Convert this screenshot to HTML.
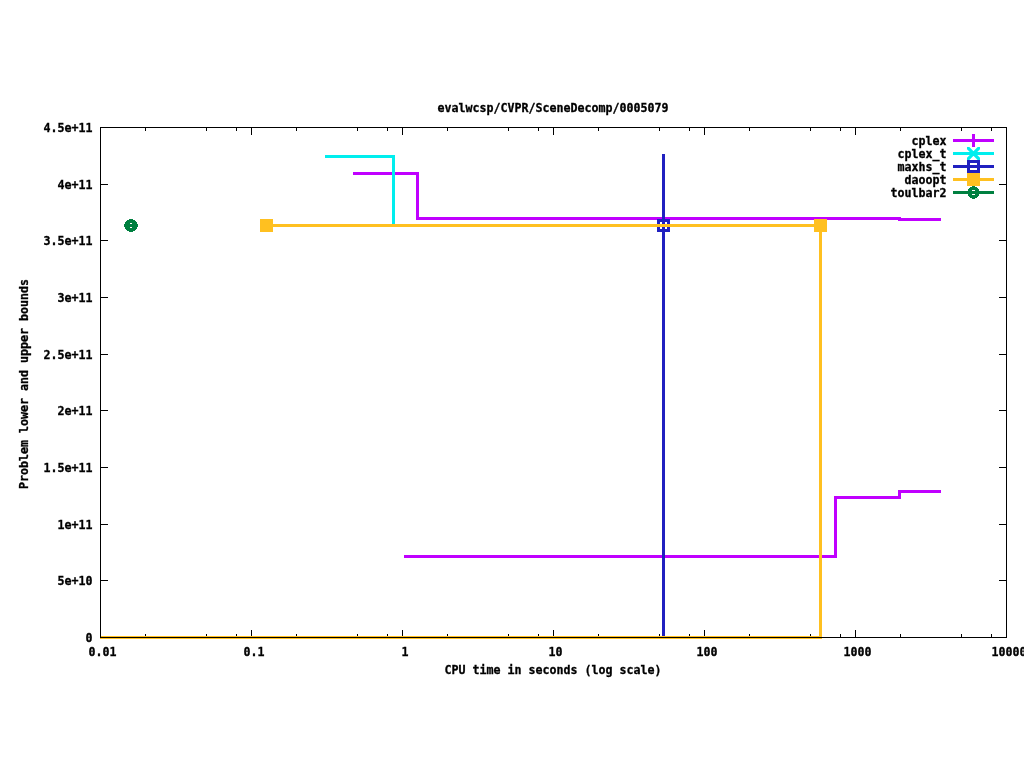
<!DOCTYPE html>
<html><head><meta charset="utf-8"><title>evalwcsp/CVPR/SceneDecomp/0005079</title>
<style>
html,body{margin:0;padding:0;background:#fff;width:1024px;height:768px;overflow:hidden}
svg{display:block}
text{font-family:"DejaVu Sans Mono","Liberation Mono",monospace;font-weight:bold;font-size:11.63px;fill:#000;stroke:#000;stroke-width:0.3px}
</style></head><body>
<svg width="1024" height="768" viewBox="0 0 1024 768" shape-rendering="crispEdges">
<rect x="0" y="0" width="1024" height="768" fill="#fff"/>
<rect x="100" y="637" width="8" height="1" fill="#000"/>
<rect x="999" y="637" width="8" height="1" fill="#000"/>
<rect x="100" y="580" width="8" height="1" fill="#000"/>
<rect x="999" y="580" width="8" height="1" fill="#000"/>
<rect x="100" y="524" width="8" height="1" fill="#000"/>
<rect x="999" y="524" width="8" height="1" fill="#000"/>
<rect x="100" y="467" width="8" height="1" fill="#000"/>
<rect x="999" y="467" width="8" height="1" fill="#000"/>
<rect x="100" y="410" width="8" height="1" fill="#000"/>
<rect x="999" y="410" width="8" height="1" fill="#000"/>
<rect x="100" y="354" width="8" height="1" fill="#000"/>
<rect x="999" y="354" width="8" height="1" fill="#000"/>
<rect x="100" y="297" width="8" height="1" fill="#000"/>
<rect x="999" y="297" width="8" height="1" fill="#000"/>
<rect x="100" y="240" width="8" height="1" fill="#000"/>
<rect x="999" y="240" width="8" height="1" fill="#000"/>
<rect x="100" y="184" width="8" height="1" fill="#000"/>
<rect x="999" y="184" width="8" height="1" fill="#000"/>
<rect x="100" y="127" width="8" height="1" fill="#000"/>
<rect x="999" y="127" width="8" height="1" fill="#000"/>
<rect x="100" y="127" width="1" height="8" fill="#000"/>
<rect x="100" y="630" width="1" height="8" fill="#000"/>
<rect x="145" y="127" width="1" height="4" fill="#000"/>
<rect x="145" y="634" width="1" height="4" fill="#000"/>
<rect x="206" y="127" width="1" height="4" fill="#000"/>
<rect x="206" y="634" width="1" height="4" fill="#000"/>
<rect x="236" y="127" width="1" height="4" fill="#000"/>
<rect x="236" y="634" width="1" height="4" fill="#000"/>
<rect x="251" y="127" width="1" height="8" fill="#000"/>
<rect x="251" y="630" width="1" height="8" fill="#000"/>
<rect x="296" y="127" width="1" height="4" fill="#000"/>
<rect x="296" y="634" width="1" height="4" fill="#000"/>
<rect x="357" y="127" width="1" height="4" fill="#000"/>
<rect x="357" y="634" width="1" height="4" fill="#000"/>
<rect x="387" y="127" width="1" height="4" fill="#000"/>
<rect x="387" y="634" width="1" height="4" fill="#000"/>
<rect x="402" y="127" width="1" height="8" fill="#000"/>
<rect x="402" y="630" width="1" height="8" fill="#000"/>
<rect x="447" y="127" width="1" height="4" fill="#000"/>
<rect x="447" y="634" width="1" height="4" fill="#000"/>
<rect x="508" y="127" width="1" height="4" fill="#000"/>
<rect x="508" y="634" width="1" height="4" fill="#000"/>
<rect x="538" y="127" width="1" height="4" fill="#000"/>
<rect x="538" y="634" width="1" height="4" fill="#000"/>
<rect x="553" y="127" width="1" height="8" fill="#000"/>
<rect x="553" y="630" width="1" height="8" fill="#000"/>
<rect x="598" y="127" width="1" height="4" fill="#000"/>
<rect x="598" y="634" width="1" height="4" fill="#000"/>
<rect x="659" y="127" width="1" height="4" fill="#000"/>
<rect x="659" y="634" width="1" height="4" fill="#000"/>
<rect x="689" y="127" width="1" height="4" fill="#000"/>
<rect x="689" y="634" width="1" height="4" fill="#000"/>
<rect x="704" y="127" width="1" height="8" fill="#000"/>
<rect x="704" y="630" width="1" height="8" fill="#000"/>
<rect x="749" y="127" width="1" height="4" fill="#000"/>
<rect x="749" y="634" width="1" height="4" fill="#000"/>
<rect x="810" y="127" width="1" height="4" fill="#000"/>
<rect x="810" y="634" width="1" height="4" fill="#000"/>
<rect x="840" y="127" width="1" height="4" fill="#000"/>
<rect x="840" y="634" width="1" height="4" fill="#000"/>
<rect x="855" y="127" width="1" height="8" fill="#000"/>
<rect x="855" y="630" width="1" height="8" fill="#000"/>
<rect x="900" y="127" width="1" height="4" fill="#000"/>
<rect x="900" y="634" width="1" height="4" fill="#000"/>
<rect x="961" y="127" width="1" height="4" fill="#000"/>
<rect x="961" y="634" width="1" height="4" fill="#000"/>
<rect x="991" y="127" width="1" height="4" fill="#000"/>
<rect x="991" y="634" width="1" height="4" fill="#000"/>
<rect x="1006" y="127" width="1" height="8" fill="#000"/>
<rect x="1006" y="630" width="1" height="8" fill="#000"/>
<rect x="353" y="172" width="66" height="3" fill="#c000ff"/>
<rect x="416" y="172" width="3" height="48" fill="#c000ff"/>
<rect x="416" y="217" width="485" height="3" fill="#c000ff"/>
<rect x="898" y="218" width="43" height="3" fill="#c000ff"/>
<rect x="404" y="555" width="433" height="3" fill="#c000ff"/>
<rect x="834" y="496" width="3" height="62" fill="#c000ff"/>
<rect x="834" y="496" width="67" height="3" fill="#c000ff"/>
<rect x="898" y="490" width="3" height="9" fill="#c000ff"/>
<rect x="898" y="490" width="43" height="3" fill="#c000ff"/>
<rect x="325" y="155" width="70" height="3" fill="#00eeee"/>
<rect x="392" y="155" width="3" height="69" fill="#00eeee"/>
<rect x="662" y="154" width="3" height="484" fill="#2020c0"/>
<rect x="657" y="219" width="13" height="3" fill="#2020c0"/>
<rect x="657" y="229" width="13" height="3" fill="#2020c0"/>
<rect x="657" y="219" width="3" height="13" fill="#2020c0"/>
<rect x="667" y="219" width="3" height="13" fill="#2020c0"/>
<rect x="266" y="224" width="556" height="3" fill="#ffc020"/>
<rect x="819" y="224" width="3" height="415" fill="#ffc020"/>
<rect x="100" y="636" width="722" height="3" fill="#ffc020"/>
<rect x="260" y="219" width="13" height="13" fill="#ffc020"/>
<rect x="814" y="219" width="13" height="13" fill="#ffc020"/>
<rect x="129" y="219" width="3" height="1" fill="#008040"/>
<rect x="127" y="220" width="7" height="1" fill="#008040"/>
<rect x="126" y="221" width="9" height="1" fill="#008040"/>
<rect x="125" y="222" width="11" height="1" fill="#008040"/>
<rect x="125" y="223" width="11" height="1" fill="#008040"/>
<rect x="125" y="224" width="11" height="1" fill="#008040"/>
<rect x="125" y="225" width="11" height="1" fill="#008040"/>
<rect x="125" y="226" width="11" height="1" fill="#008040"/>
<rect x="125" y="227" width="11" height="1" fill="#008040"/>
<rect x="125" y="228" width="11" height="1" fill="#008040"/>
<rect x="126" y="229" width="9" height="1" fill="#008040"/>
<rect x="127" y="230" width="7" height="1" fill="#008040"/>
<rect x="129" y="231" width="3" height="1" fill="#008040"/>
<rect x="130" y="219" width="3" height="1" fill="#008040"/>
<rect x="128" y="220" width="7" height="1" fill="#008040"/>
<rect x="127" y="221" width="9" height="1" fill="#008040"/>
<rect x="126" y="222" width="11" height="1" fill="#008040"/>
<rect x="126" y="223" width="11" height="1" fill="#008040"/>
<rect x="126" y="224" width="11" height="1" fill="#008040"/>
<rect x="126" y="225" width="11" height="1" fill="#008040"/>
<rect x="126" y="226" width="11" height="1" fill="#008040"/>
<rect x="126" y="227" width="11" height="1" fill="#008040"/>
<rect x="126" y="228" width="11" height="1" fill="#008040"/>
<rect x="127" y="229" width="9" height="1" fill="#008040"/>
<rect x="128" y="230" width="7" height="1" fill="#008040"/>
<rect x="130" y="231" width="3" height="1" fill="#008040"/>
<rect x="124" y="224" width="14" height="3" fill="#008040"/>
<rect x="100" y="127" width="907" height="1" fill="#000"/>
<rect x="100" y="637" width="907" height="1" fill="#000"/>
<rect x="100" y="127" width="1" height="511" fill="#000"/>
<rect x="1006" y="127" width="1" height="511" fill="#000"/>
<text x="92.6" y="642.25" text-anchor="end" textLength="7" lengthAdjust="spacing">0</text>
<text x="92.6" y="585.25" text-anchor="end" textLength="35" lengthAdjust="spacing">5e+10</text>
<text x="92.6" y="529.25" text-anchor="end" textLength="35" lengthAdjust="spacing">1e+11</text>
<text x="92.6" y="472.25" text-anchor="end" textLength="49" lengthAdjust="spacing">1.5e+11</text>
<text x="92.6" y="415.25" text-anchor="end" textLength="35" lengthAdjust="spacing">2e+11</text>
<text x="92.6" y="359.25" text-anchor="end" textLength="49" lengthAdjust="spacing">2.5e+11</text>
<text x="92.6" y="302.25" text-anchor="end" textLength="35" lengthAdjust="spacing">3e+11</text>
<text x="92.6" y="245.25" text-anchor="end" textLength="49" lengthAdjust="spacing">3.5e+11</text>
<text x="92.6" y="189.25" text-anchor="end" textLength="35" lengthAdjust="spacing">4e+11</text>
<text x="92.6" y="132.25" text-anchor="end" textLength="49" lengthAdjust="spacing">4.5e+11</text>
<text x="88.5" y="656.25" text-anchor="start" textLength="28" lengthAdjust="spacing">0.01</text>
<text x="243.5" y="656.25" text-anchor="start" textLength="21" lengthAdjust="spacing">0.1</text>
<text x="401.5" y="656.25" text-anchor="start" textLength="7" lengthAdjust="spacing">1</text>
<text x="548.5" y="656.25" text-anchor="start" textLength="14" lengthAdjust="spacing">10</text>
<text x="696.5" y="656.25" text-anchor="start" textLength="21" lengthAdjust="spacing">100</text>
<text x="843.5" y="656.25" text-anchor="start" textLength="28" lengthAdjust="spacing">1000</text>
<text x="991.5" y="656.25" text-anchor="start" textLength="35" lengthAdjust="spacing">10000</text>
<text x="437.5" y="112.25" text-anchor="start" textLength="231" lengthAdjust="spacing">evalwcsp/CVPR/SceneDecomp/0005079</text>
<text x="444.5" y="674.25" text-anchor="start" textLength="217" lengthAdjust="spacing">CPU time in seconds (log scale)</text>
<text transform="translate(28.4,489) rotate(-90)" textLength="210" lengthAdjust="spacing">Problem lower and upper bounds</text>
<text x="946.4" y="145.2" text-anchor="end" textLength="35" lengthAdjust="spacing">cplex</text>
<rect x="953" y="139" width="41" height="3" fill="#c000ff"/>
<rect x="972" y="134" width="3" height="13" fill="#c000ff"/>
<text x="946.4" y="158.2" text-anchor="end" textLength="49" lengthAdjust="spacing">cplex_t</text>
<rect x="953" y="152" width="41" height="3" fill="#00eeee"/>
<clipPath id="cx"><rect x="967" y="147" width="13" height="13"/></clipPath>
<path clip-path="url(#cx)" d="M964,144 L983,163 M983,144 L964,163" stroke="#00eeee" stroke-width="3.3" fill="none" shape-rendering="geometricPrecision"/>
<text x="946.4" y="171.2" text-anchor="end" textLength="49" lengthAdjust="spacing">maxhs_t</text>
<rect x="953" y="165" width="41" height="3" fill="#2020c0"/>
<rect x="967" y="160" width="13" height="3" fill="#2020c0"/>
<rect x="967" y="170" width="13" height="3" fill="#2020c0"/>
<rect x="967" y="160" width="3" height="13" fill="#2020c0"/>
<rect x="977" y="160" width="3" height="13" fill="#2020c0"/>
<text x="946.4" y="184.2" text-anchor="end" textLength="42" lengthAdjust="spacing">daoopt</text>
<rect x="953" y="178" width="41" height="3" fill="#ffc020"/>
<rect x="967" y="173" width="13" height="13" fill="#ffc020"/>
<text x="946.4" y="197.2" text-anchor="end" textLength="56" lengthAdjust="spacing">toulbar2</text>
<rect x="953" y="191" width="41" height="3" fill="#008040"/>
<rect x="972" y="186" width="3" height="1" fill="#008040"/>
<rect x="970" y="187" width="7" height="1" fill="#008040"/>
<rect x="969" y="188" width="9" height="1" fill="#008040"/>
<rect x="968" y="189" width="11" height="1" fill="#008040"/>
<rect x="968" y="190" width="11" height="1" fill="#008040"/>
<rect x="968" y="191" width="11" height="1" fill="#008040"/>
<rect x="968" y="192" width="11" height="1" fill="#008040"/>
<rect x="968" y="193" width="11" height="1" fill="#008040"/>
<rect x="968" y="194" width="11" height="1" fill="#008040"/>
<rect x="968" y="195" width="11" height="1" fill="#008040"/>
<rect x="969" y="196" width="9" height="1" fill="#008040"/>
<rect x="970" y="197" width="7" height="1" fill="#008040"/>
<rect x="972" y="198" width="3" height="1" fill="#008040"/>
<rect x="130" y="223" width="2" height="1" fill="#fff"/>
<rect x="130" y="227" width="2" height="1" fill="#fff"/>
<rect x="972" y="190" width="3" height="1" fill="#fff"/>
<rect x="972" y="194" width="3" height="1" fill="#fff"/>
</svg>
</body></html>
